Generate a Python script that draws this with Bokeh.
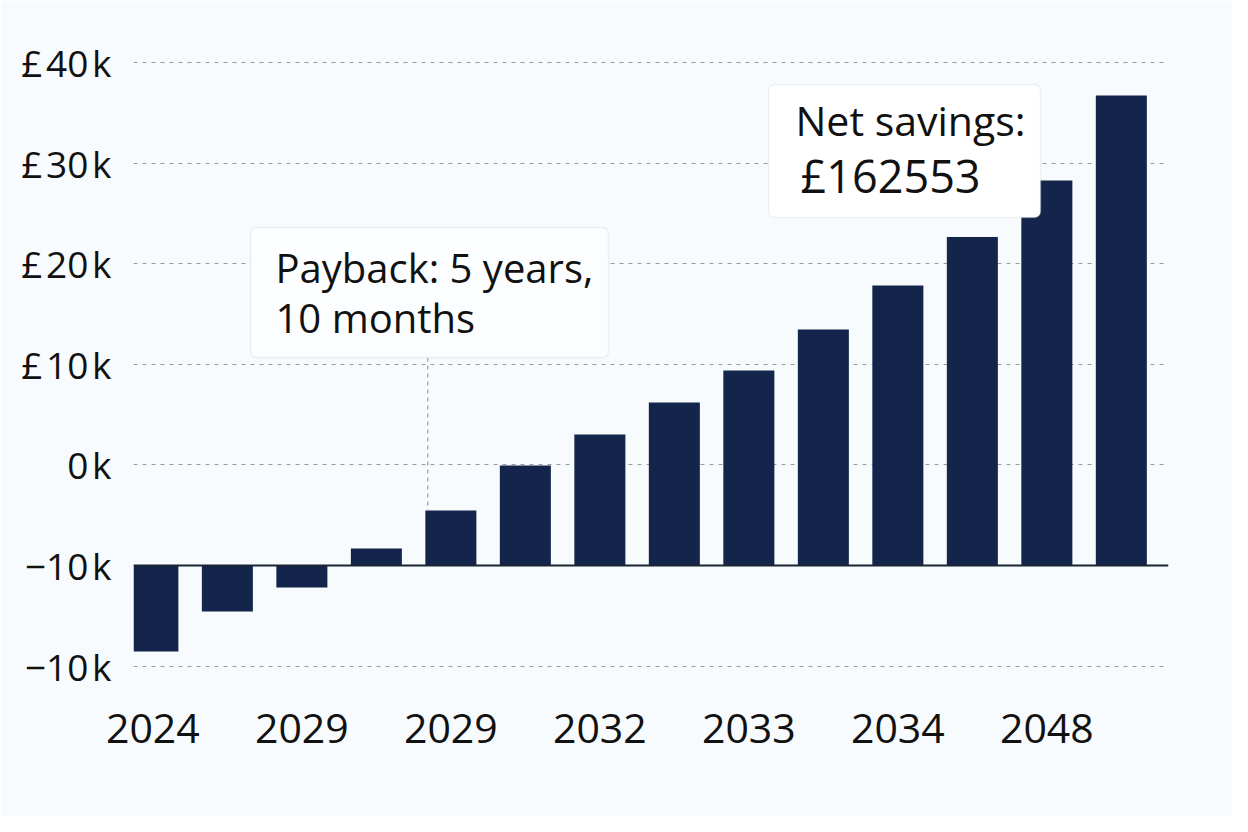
from bokeh.plotting import figure
from bokeh.models import FixedTicker, Span, BoxAnnotation, Range1d
from bokeh.core.properties import value
from bokeh.embed import file_html
from bokeh.resources import INLINE

# ---- data (values in £k, measured from the baseline) ----
bar_index = list(range(14))
net_values = [-8.55, -4.57, -2.19, 1.69, 5.47, 9.94, 13.02, 16.2, 19.38, 23.46, 27.83, 32.65, 38.27, 46.72]
x_tick_positions = [0, 2, 4, 6, 8, 10, 12]
x_tick_labels = ["2024", "2029", "2029", "2032", "2033", "2034", "2048"]
y_tick_positions = [-10, 0, 10, 20, 30, 40, 50]
y_tick_labels = ["\u221210\u200ak", "\u221210\u200ak", "0\u200ak", "£\u200a10\u200ak",
                 "£\u200a20\u200ak", "£\u200a30\u200ak", "£\u200a40\u200ak"]
payback_text = ["Payback: 5 years,", "10 months"]
savings_text = ["Net savings:", "£162553"]

FONT = "Open Sans"
BG = "#F8FBFD"
BAR = "#13254A"

p = figure(width=1232, height=816, output_backend="svg", toolbar_location=None,
           x_range=Range1d(-0.26, 13.633), y_range=Range1d(-12.43, 53.18),
           min_border_left=133, min_border_right=64, min_border_top=30, min_border_bottom=126)
p.background_fill_color = BG
p.border_fill_color = BG
p.outline_line_color = None

# grid
p.xgrid.grid_line_color = None
p.ygrid.ticker = FixedTicker(ticks=y_tick_positions)
p.ygrid.grid_line_color = "#969CA3"
p.ygrid.grid_line_dash = "4 5"
p.ygrid.grid_line_width = 1

# axes
p.xaxis.ticker = FixedTicker(ticks=x_tick_positions)
p.xaxis.major_label_overrides = {t: l for t, l in zip(x_tick_positions, x_tick_labels)}
p.yaxis.ticker = FixedTicker(ticks=y_tick_positions)
p.yaxis.major_label_overrides = {t: l for t, l in zip(y_tick_positions, y_tick_labels)}
for ax in (p.xaxis, p.yaxis):
    ax.axis_line_color = None
    ax.major_tick_line_color = None
    ax.minor_tick_line_color = None
    ax.major_label_text_font = FONT
    ax.major_label_text_color = "#111111"
p.xaxis.major_label_text_font_size = "41px"
p.xaxis.major_label_standoff = 17
p.yaxis.major_label_text_font_size = "37px"
p.yaxis.major_label_standoff = 16

# bars
p.vbar(x=bar_index, top=net_values, bottom=0, width=0.685, fill_color=BAR, line_color=None)

# baseline
p.add_layout(Span(location=0, dimension="width", line_color="#1B2433", line_width=2))

# payback leader line
p.segment(x0=[3.69], y0=[20.68], x1=[3.69], y1=[net_values[4]], line_color="#969CA3",
          line_dash="4 4", line_width=1.2)

# annotation boxes
p.add_layout(BoxAnnotation(left=1.311, right=6.116, top=33.6, bottom=20.68,
                           fill_color="#FCFDFE", fill_alpha=1.0, line_color="#C9CFD6",
                           line_width=1.5, border_radius=6))
p.add_layout(BoxAnnotation(left=8.264, right=11.915, top=47.81, bottom=34.59,
                           fill_color="#FFFFFF", fill_alpha=1.0, line_color="#C9CFD6",
                           line_width=1.5, border_radius=6))

p.text(x=[1.646, 1.646], y=[29.6, 24.66], text=payback_text,
       text_font=value(FONT), text_font_size="40px", text_color="#111111",
       text_baseline="alphabetic", text_align="left", level="overlay")
p.text(x=[8.626, 8.693], y=[44.3, 38.8], text=savings_text,
       text_font=value(FONT), text_font_size=["41px", "45px"], text_color="#111111",
       text_baseline="alphabetic", text_align="left", level="overlay")

open("out.html", "w").write(file_html(p, INLINE))
